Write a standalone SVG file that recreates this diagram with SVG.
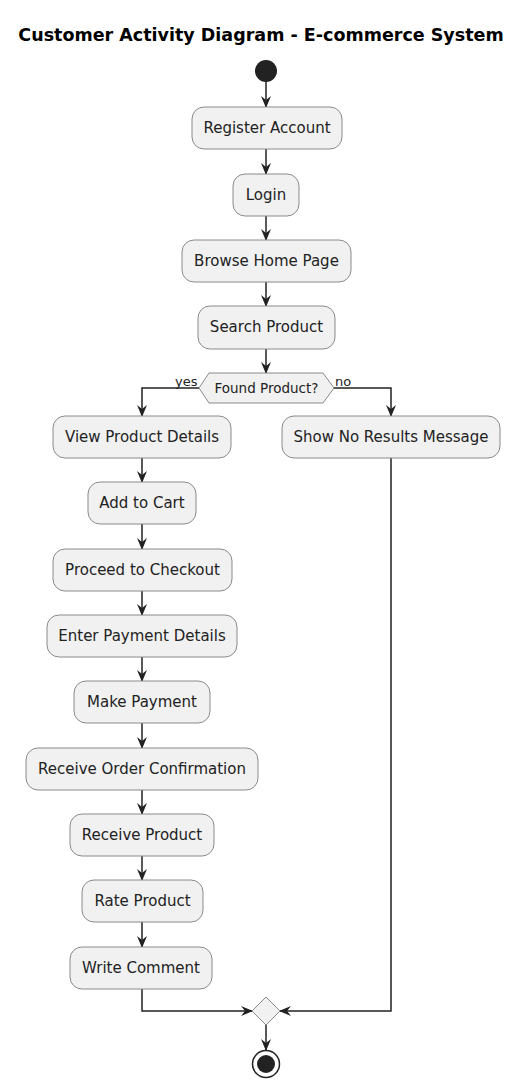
<svg xmlns="http://www.w3.org/2000/svg" width="524" height="1080" viewBox="0 0 524 1080">
<defs>
<style>
.box{fill:#F1F1F1;stroke:#8a8a8a;stroke-width:1}
.t{font-family:"DejaVu Sans","Liberation Sans",sans-serif;font-size:15px;fill:#222;text-anchor:middle}
.s{font-family:"DejaVu Sans","Liberation Sans",sans-serif;font-size:13px;fill:#222}
.c{fill:none;stroke:#222;stroke-width:1.5}
</style>
<marker id="a" viewBox="0 0 12 10" refX="11" refY="5" markerWidth="12" markerHeight="10" markerUnits="userSpaceOnUse" orient="auto">
<path d="M0,0 L12,5 L0,10 L4,5 Z" fill="#222"/>
</marker>
</defs>
<rect width="524" height="1080" fill="#fff"/>
<text x="261" y="41" font-family="DejaVu Sans,Liberation Sans,sans-serif" font-size="17.5" font-weight="bold" text-anchor="middle" fill="#000">Customer Activity Diagram - E-commerce System</text>

<g id="connectors">
<path class="c" marker-end="url(#a)" d="M266,82 V107"/>
<path class="c" marker-end="url(#a)" d="M266,149 V174"/>
<path class="c" marker-end="url(#a)" d="M266,216 V240"/>
<path class="c" marker-end="url(#a)" d="M266,282 V306"/>
<path class="c" marker-end="url(#a)" d="M266,349 V373"/>
<path class="c" marker-end="url(#a)" d="M199,388 H142 V416"/>
<path class="c" marker-end="url(#a)" d="M334,388 H391 V416"/>
<path class="c" marker-end="url(#a)" d="M142,458 V482"/>
<path class="c" marker-end="url(#a)" d="M142,524 V549"/>
<path class="c" marker-end="url(#a)" d="M142,591 V615"/>
<path class="c" marker-end="url(#a)" d="M142,657 V681"/>
<path class="c" marker-end="url(#a)" d="M142,723 V748"/>
<path class="c" marker-end="url(#a)" d="M142,790 V814"/>
<path class="c" marker-end="url(#a)" d="M142,856 V880"/>
<path class="c" marker-end="url(#a)" d="M142,922 V947"/>
<path class="c" marker-end="url(#a)" d="M142,989 V1011 H252"/>
<path class="c" marker-end="url(#a)" d="M391,458 V1011 H280"/>
<path class="c" marker-end="url(#a)" d="M266,1025 V1050"/>
<text class="s" x="175" y="386">yes</text>
<text class="s" x="335" y="386">no</text>
</g>

<g id="start"><circle cx="266" cy="71" r="11" fill="#222"/></g>
<g id="register"><rect class="box" x="192" y="107" width="150" height="42" rx="12"/><text class="t" x="267" y="133">Register Account</text></g>
<g id="login"><rect class="box" x="233" y="174" width="66" height="42" rx="12"/><text class="t" x="266" y="200">Login</text></g>
<g id="browse"><rect class="box" x="182" y="240" width="169" height="42" rx="12"/><text class="t" x="266.5" y="266">Browse Home Page</text></g>
<g id="search"><rect class="box" x="198" y="306" width="137" height="43" rx="12"/><text class="t" x="266.5" y="332">Search Product</text></g>
<g id="decision"><polygon class="box" points="199,388 209,373 323,373 334,388 323,403 209,403"/><text class="t" x="266.5" y="393" style="font-size:13.5px">Found Product?</text></g>
<g id="view"><rect class="box" x="53" y="416" width="178" height="42" rx="12"/><text class="t" x="142" y="442">View Product Details</text></g>
<g id="noresults"><rect class="box" x="282" y="416" width="218" height="42" rx="12"/><text class="t" x="391" y="442">Show No Results Message</text></g>
<g id="cart"><rect class="box" x="88" y="482" width="108" height="42" rx="12"/><text class="t" x="142" y="508">Add to Cart</text></g>
<g id="checkout"><rect class="box" x="53" y="549" width="179" height="42" rx="12"/><text class="t" x="142.5" y="575">Proceed to Checkout</text></g>
<g id="payment-details"><rect class="box" x="47" y="615" width="190" height="42" rx="12"/><text class="t" x="142" y="641">Enter Payment Details</text></g>
<g id="make-payment"><rect class="box" x="74" y="681" width="136" height="42" rx="12"/><text class="t" x="142" y="707">Make Payment</text></g>
<g id="confirmation"><rect class="box" x="26" y="748" width="232" height="42" rx="12"/><text class="t" x="142" y="774">Receive Order Confirmation</text></g>
<g id="receive-product"><rect class="box" x="70" y="814" width="144" height="42" rx="12"/><text class="t" x="142" y="840">Receive Product</text></g>
<g id="rate"><rect class="box" x="82" y="880" width="121" height="42" rx="12"/><text class="t" x="142.5" y="906">Rate Product</text></g>
<g id="comment"><rect class="box" x="70" y="947" width="142" height="42" rx="12"/><text class="t" x="141" y="973">Write Comment</text></g>
<g id="merge"><polygon class="box" points="266,997 280,1011 266,1025 252,1011"/></g>
<g id="end"><circle cx="266" cy="1064" r="13.5" fill="#fff" stroke="#222" stroke-width="1.5"/><circle cx="266" cy="1064" r="9" fill="#222"/></g>
</svg>
